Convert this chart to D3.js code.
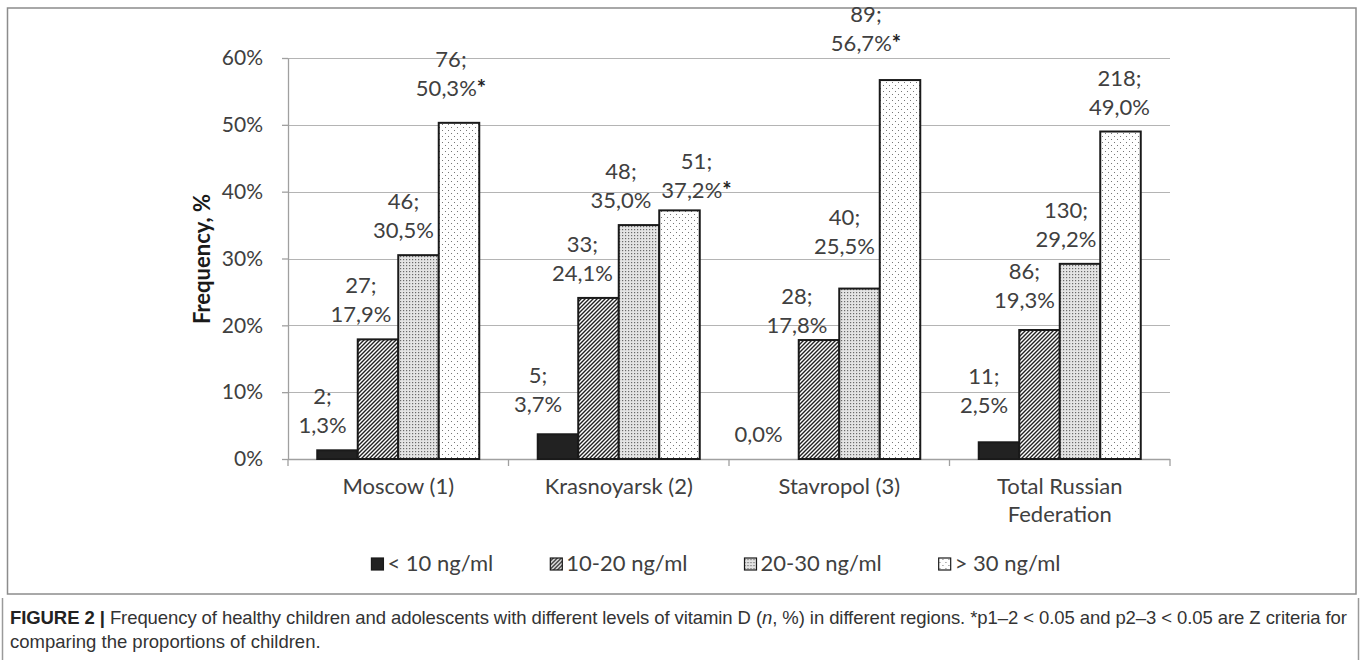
<!DOCTYPE html>
<html>
<head>
<meta charset="utf-8">
<script src="https://cdn.jsdelivr.net/npm/d3@7"></script>
<style>
  html, body { margin: 0; padding: 0; background: #fff; }
  svg { display: block; }
</style>
</head>
<body>
<svg id="chart" width="1360" height="660"></svg>
<script>
// Regions on the x axis
const categories = ["Moscow (1)", "Krasnoyarsk (2)", "Stavropol (3)", "Total Russian Federation"];
// Vitamin D level groups (legend order)
const seriesNames = ["< 10 ng/ml", "10-20 ng/ml", "20-30 ng/ml", "> 30 ng/ml"];
// Share of children, % (one array per level group, in region order)
const pctBelow10 = [1.3, 3.7, 0.0, 2.5];
const pct10to20  = [17.9, 24.1, 17.8, 19.3];
const pct20to30  = [30.5, 35.0, 25.5, 29.2];
const pctAbove30 = [50.3, 37.2, 56.7, 49.0];
// Number of children
const nBelow10 = [2, 5, 0, 11];
const n10to20  = [27, 33, 28, 86];
const n20to30  = [46, 48, 40, 130];
const nAbove30 = [76, 51, 89, 218];
// Significance marks (*) on the > 30 ng/ml group
const sigAbove30 = [true, true, true, false];
// Axis ticks
const yTicks = [0, 10, 20, 30, 40, 50, 60];

// Hand-placed offsets of the value labels [dx, dy] in px, by region then group
const labelNudge = [
  [[-15, 0], [-17, 0], [-15, 0], [-8, -10]],
  [[-20, -5], [-16, 0], [-18, 0], [17, 5]],
  [[-20, 0], [-22, 10], [-15, -18], [-34, -12]],
  [[-15, -12], [-15, -5], [-14, 0], [-1, 0]]
];

const pctSeries = [pctBelow10, pct10to20, pct20to30, pctAbove30];
const nSeries = [nBelow10, n10to20, n20to30, nAbove30];
const sigSeries = [[false,false,false,false],[false,false,false,false],[false,false,false,false], sigAbove30];

const svg = d3.select("#chart");
const textColor = "#404040";
const fontChart = "Lato, 'Open Sans', sans-serif";
const fontCaption = "'Liberation Sans', Arial, sans-serif";

// ---- patterns for the bar fills ----
const defs = svg.append("defs");
const pHatch = defs.append("pattern").attr("id", "pat-hatch")
  .attr("patternUnits", "userSpaceOnUse").attr("width", 4).attr("height", 4);
pHatch.append("rect").attr("width", 4).attr("height", 4).attr("fill", "#fff");
pHatch.append("path").attr("d", "M-1,1 L1,-1 M0,4 L4,0 M3,5 L5,3")
  .attr("stroke", "#222").attr("stroke-width", 1.4);

const pFine = defs.append("pattern").attr("id", "pat-fine")
  .attr("patternUnits", "userSpaceOnUse").attr("width", 3).attr("height", 3);
pFine.append("rect").attr("width", 3).attr("height", 3).attr("fill", "#e4e4e4");
pFine.append("rect").attr("x", 1).attr("y", 1).attr("width", 1.2).attr("height", 1.2).attr("fill", "#6a6a6a");

const pDots = defs.append("pattern").attr("id", "pat-dots")
  .attr("patternUnits", "userSpaceOnUse").attr("width", 6).attr("height", 6);
pDots.append("rect").attr("width", 6).attr("height", 6).attr("fill", "#fff");
pDots.append("rect").attr("x", 1).attr("y", 1).attr("width", 1).attr("height", 1).attr("fill", "#777");
pDots.append("rect").attr("x", 4).attr("y", 4).attr("width", 1).attr("height", 1).attr("fill", "#777");

const fills = ["#222", "url(#pat-hatch)", "url(#pat-fine)", "url(#pat-dots)"];

// ---- frames ----
svg.append("rect").attr("x", 7.5).attr("y", 8).attr("width", 1348.5).attr("height", 586)
  .attr("fill", "none").attr("stroke", "#8c8c8c").attr("stroke-width", 1.5);
svg.append("line").attr("x1", 2.5).attr("x2", 2.5).attr("y1", 598).attr("y2", 660)
  .attr("stroke", "#9a9a9a").attr("stroke-width", 1.5);
svg.append("line").attr("x1", 1358.5).attr("x2", 1358.5).attr("y1", 598).attr("y2", 660)
  .attr("stroke", "#9a9a9a").attr("stroke-width", 1.5);

// ---- scales ----
const plotLeft = 288, plotRight = 1170, plotTop = 58, plotBottom = 459;
const y = d3.scaleLinear().domain([0, 60]).range([plotBottom, plotTop]);
const x0 = d3.scaleBand().domain(categories).range([plotLeft, plotRight]).paddingInner(0).paddingOuter(0);
const x1 = d3.scaleBand().domain(seriesNames).range([0, x0.bandwidth()]).paddingInner(0).paddingOuter(0.722);

// ---- grid lines ----
svg.append("g").selectAll("line").data(yTicks.filter(d => d > 0)).join("line")
  .attr("x1", plotLeft).attr("x2", plotRight)
  .attr("y1", d => Math.round(y(d)) + 0.5).attr("y2", d => Math.round(y(d)) + 0.5)
  .attr("stroke", "#b4b4b4").attr("stroke-width", 1.2);

// ---- y axis ----
const yAxis = svg.append("g").attr("transform", `translate(${plotLeft},0)`)
  .call(d3.axisLeft(y).tickValues(yTicks).tickFormat(d => d + "%").tickSize(6).tickPadding(19).tickSizeOuter(0));
yAxis.select(".domain").attr("stroke", "#a0a0a0").attr("stroke-width", 1.3);
yAxis.selectAll(".tick line").attr("stroke", "#a0a0a0").attr("stroke-width", 1.3);
yAxis.selectAll(".tick text").attr("fill", textColor)
  .style("font-family", fontChart).style("font-size", "21px");

svg.append("text")
  .attr("transform", `translate(210,259) rotate(-90)`)
  .attr("text-anchor", "middle")
  .style("font-family", fontChart).style("font-size", "22px").style("font-weight", "bold")
  .attr("fill", "#1a1a1a")
  .text("Frequency, %");

// ---- x axis ----
const xg = svg.append("g");
xg.append("line").attr("x1", plotLeft).attr("x2", plotRight)
  .attr("y1", plotBottom + 0.5).attr("y2", plotBottom + 0.5)
  .attr("stroke", "#a0a0a0").attr("stroke-width", 1.3);
const bounds = categories.map(c => x0(c)).concat([plotRight]);
xg.selectAll("line.tk").data(bounds).join("line").attr("class", "tk")
  .attr("x1", d => d).attr("x2", d => d)
  .attr("y1", plotBottom).attr("y2", plotBottom + 7)
  .attr("stroke", "#a0a0a0").attr("stroke-width", 1.3);

const catText = xg.selectAll("text.cat").data(categories).join("text").attr("class", "cat")
  .attr("x", d => x0(d) + x0.bandwidth() / 2)
  .attr("y", 494)
  .attr("text-anchor", "middle")
  .attr("fill", textColor)
  .style("font-family", fontChart).style("font-size", "22px");

// wrap long category names onto several lines
catText.each(function(d) {
  const t = d3.select(this);
  const words = d.split(" ");
  const maxW = 190;
  let line = [];
  let tspan = t.append("tspan").attr("x", t.attr("x")).attr("dy", 0);
  words.forEach(w => {
    line.push(w);
    tspan.text(line.join(" "));
    if (tspan.node().getComputedTextLength() > maxW && line.length > 1) {
      line.pop();
      tspan.text(line.join(" "));
      line = [w];
      tspan = t.append("tspan").attr("x", t.attr("x")).attr("dy", 28).text(w);
    }
  });
});

// ---- bars ----
const barData = [];
categories.forEach((c, ci) => {
  seriesNames.forEach((s, si) => {
    barData.push({
      cat: c, ser: s, ci, si,
      v: pctSeries[si][ci], n: nSeries[si][ci], sig: sigSeries[si][ci]
    });
  });
});

svg.append("g").selectAll("rect").data(barData).join("rect")
  .attr("x", d => x0(d.cat) + x1(d.ser))
  .attr("y", d => y(d.v))
  .attr("width", x1.bandwidth())
  .attr("height", d => y(0) - y(d.v))
  .attr("fill", d => fills[d.si])
  .attr("stroke", d => d.v > 0 ? "#1a1a1a" : "none")
  .attr("stroke-width", 2);

// ---- value labels ----
const fmt = v => d3.format(".1f")(v).replace(".", ",");
const labels = svg.append("g").selectAll("text").data(barData).join("text")
  .attr("text-anchor", "middle")
  .attr("fill", textColor)
  .style("font-family", fontChart).style("font-size", "22px");

labels.each(function(d) {
  const t = d3.select(this);
  const [dx, dy] = labelNudge[d.ci][d.si];
  const cx = x0(d.cat) + x1(d.ser) + x1.bandwidth() / 2 + dx;
  const baseBottom = y(d.v) - 17 + dy;
  if (d.n > 0) {
    t.append("tspan").attr("x", cx).attr("y", baseBottom - 29).text(d.n + ";");
  }
  t.append("tspan").attr("x", cx).attr("y", baseBottom).text(fmt(d.v) + "%");
  if (d.sig) {
    t.append("tspan").style("font-weight", "bold").attr("fill", "#222").text("*");
  }
});

// ---- legend ----
const legend = svg.append("g");
let lx = 0;
seriesNames.forEach((s, i) => {
  const g = legend.append("g");
  g.append("rect").attr("x", lx).attr("y", 558).attr("width", 12).attr("height", 12)
    .attr("fill", fills[i]).attr("stroke", "#1a1a1a").attr("stroke-width", 1.2);
  const tx = g.append("text").attr("x", lx + 16).attr("y", 571)
    .attr("fill", textColor)
    .style("font-family", fontChart).style("font-size", "22px").text(s);
  const w = tx.node().getComputedTextLength();
  lx += 16 + w + 57;
});
const legendWidth = lx - 57;
legend.attr("transform", `translate(${716 - legendWidth / 2},0)`);

// ---- caption ----
const l1 = svg.append("text").attr("x", 10).attr("y", 624)
  .style("font-family", fontCaption).style("font-size", "18.5px").attr("fill", "#333")
  .attr("textLength", 1337).attr("lengthAdjust", "spacing");
l1.append("tspan").style("font-weight", "bold").attr("fill", "#222").text("FIGURE 2 | ");
l1.append("tspan").text("Frequency of healthy children and adolescents with different levels of vitamin D (");
l1.append("tspan").style("font-style", "italic").text("n");
l1.append("tspan").text(", %) in different regions. *p1–2 < 0.05 and p2–3 < 0.05 are Z criteria for");
svg.append("text").attr("x", 10).attr("y", 648)
  .style("font-family", fontCaption).style("font-size", "18.5px").attr("fill", "#333")
  .text("comparing the proportions of children.");
</script>
</body>
</html>
